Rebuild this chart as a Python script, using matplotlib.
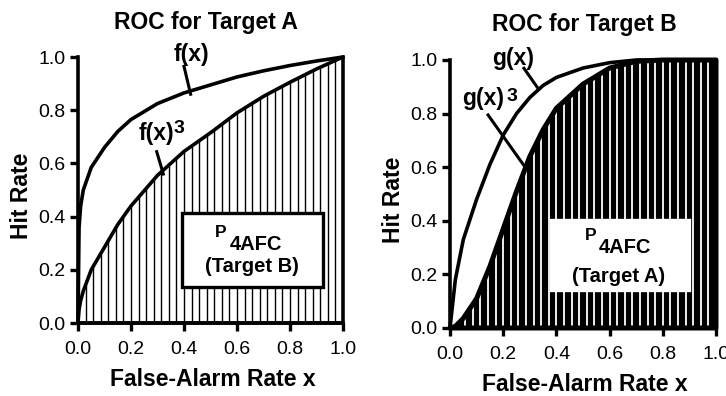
import matplotlib.pyplot as plt
import numpy as np
from matplotlib.patches import Rectangle

plt.rcParams['font.family'] = ['Liberation Sans', 'DejaVu Sans']

# ROC for Target A
xa = [0.0, 0.004, 0.01, 0.02, 0.05, 0.1, 0.15, 0.2, 0.3, 0.4, 0.5, 0.6, 0.7, 0.8, 0.9, 1.0]
fa = [0.0, 0.36, 0.44, 0.50, 0.585, 0.66, 0.72, 0.765, 0.825, 0.865, 0.895, 0.925, 0.948,
      0.968, 0.985, 1.0]
fa3 = [0.0, 0.05, 0.085, 0.12, 0.20, 0.285, 0.37, 0.44, 0.555, 0.645, 0.715, 0.79, 0.852,
       0.905, 0.955, 1.0]

# ROC for Target B
xb = [0.0, 0.02, 0.05, 0.1, 0.15, 0.2, 0.25, 0.3, 0.35, 0.4, 0.5, 0.6, 0.7, 0.8, 1.0]
gb = [0.0, 0.18, 0.33, 0.48, 0.61, 0.72, 0.80, 0.86, 0.905, 0.935, 0.97, 0.99, 1.0, 1.0, 1.0]
gb3 = [0.0, 0.006, 0.036, 0.11, 0.23, 0.37, 0.51, 0.64, 0.74, 0.82, 0.91, 0.97, 0.995, 1.0, 1.0]

ticks = [0.0, 0.2, 0.4, 0.6, 0.8, 1.0]
tick_labels = ['0.0', '0.2', '0.4', '0.6', '0.8', '1.0']

LW = 2.6
n_hatch = 35
BIG = 16.5


def style_axes(ax, title, title_x):
    ax.set_xlim(0, 1)
    ax.set_ylim(0, 1)
    for s in ['top', 'right']:
        ax.spines[s].set_visible(False)
    for s in ['left', 'bottom']:
        ax.spines[s].set_linewidth(2.6)
    ax.set_xticks(ticks, tick_labels)
    ax.set_yticks(ticks, tick_labels)
    ax.tick_params(axis='both', direction='out', length=6, width=2.4, labelsize=14)
    ax.tick_params(axis='x', pad=7)
    ax.tick_params(axis='y', pad=3)
    ax.text(title_x, 1.107, title, transform=ax.transAxes, ha='center', va='baseline',
            fontsize=BIG, fontweight='bold')
    ax.text(0.507, -0.235, 'False-Alarm Rate x', transform=ax.transAxes, ha='center',
            va='baseline', fontsize=BIG, fontweight='bold')
    ax.text(-0.213, 0.48, 'Hit Rate', transform=ax.transAxes, ha='center', va='center',
            rotation=90, fontsize=BIG, fontweight='bold')


def curve_label(ax, x, y, text, sup=None, sup_xy=None):
    ax.text(x, y, text, ha='left', va='baseline', fontsize=BIG, fontweight='bold', zorder=6)
    if sup:
        ax.text(sup_xy[0], sup_xy[1], sup, ha='left', va='baseline', fontsize=14,
                fontweight='bold', zorder=6)


def p4afc_box(ax, box, p_xy, sub_xy, target_xy, target, edge):
    x0, y0, x1, y1 = box
    ax.add_patch(Rectangle((x0, y0), x1 - x0, y1 - y0, facecolor='white', edgecolor=edge,
                           lw=2.4, zorder=5))
    ax.text(*p_xy, 'P', ha='left', va='baseline', fontsize=12.5, fontweight='bold', zorder=6)
    ax.text(*sub_xy, '4AFC', ha='left', va='baseline', fontsize=14.5, fontweight='bold',
            zorder=6)
    ax.text(*target_xy, target, ha='center', va='baseline', fontsize=14.5, fontweight='bold',
            zorder=6)


fig = plt.figure(figsize=(7.26, 3.96), dpi=100)
ax1 = fig.add_axes([78 / 726, 73 / 396, 265 / 726, 266 / 396])
ax2 = fig.add_axes([450 / 726, 68 / 396, 266 / 726, 268 / 396])

hx = np.arange(1, n_hatch) / n_hatch

# --- left panel: Target A ---
style_axes(ax1, 'ROC for Target A', 0.483)
ax1.vlines(hx, 0, np.interp(hx, xa, fa3), color='black', lw=1.0, zorder=2)
ax1.fill_between(xa, 0, fa3, facecolor='none', edgecolor='black', lw=LW, zorder=3,
                 clip_on=False)
ax1.plot(xa, fa, color='black', lw=LW, zorder=3, clip_on=False)
curve_label(ax1, 0.36, 0.985, 'f(x)')
ax1.plot([0.40, 0.425], [0.965, 0.86], color='black', lw=2.2, clip_on=False)
curve_label(ax1, 0.228, 0.688, 'f(x)', '3', (0.36, 0.714))
ax1.plot([0.297, 0.322], [0.644, 0.56], color='black', lw=2.2)
p4afc_box(ax1, (0.391, 0.136, 0.923, 0.412), (0.515, 0.324), (0.571, 0.274),
          (0.655, 0.193), '(Target B)', 'black')

# --- right panel: Target B ---
style_axes(ax2, 'ROC for Target B', 0.506)
ax2.fill_between(xb, 0, gb3, facecolor='black', edgecolor='none', zorder=1)
ax2.vlines(hx, 0, np.interp(hx, xb, gb3), color='white', lw=1.3, zorder=2)
ax2.fill_between(xb, 0, gb3, facecolor='none', edgecolor='black', lw=LW + 1, zorder=3,
                 clip_on=False)
ax2.plot(xb, gb, color='black', lw=LW, zorder=3, clip_on=False)
curve_label(ax2, 0.159, 0.981, 'g(x)')
ax2.plot([0.278, 0.331], [0.969, 0.894], color='black', lw=2.2, clip_on=False)
curve_label(ax2, 0.044, 0.832, 'g(x)', '3', (0.214, 0.848))
ax2.plot([0.143, 0.281], [0.795, 0.602], color='black', lw=2.2)
p4afc_box(ax2, (0.381, 0.142, 0.899, 0.403), (0.506, 0.328), (0.558, 0.281),
          (0.633, 0.173), '(Target A)', 'white')

fig.savefig('out.png', dpi=100)
